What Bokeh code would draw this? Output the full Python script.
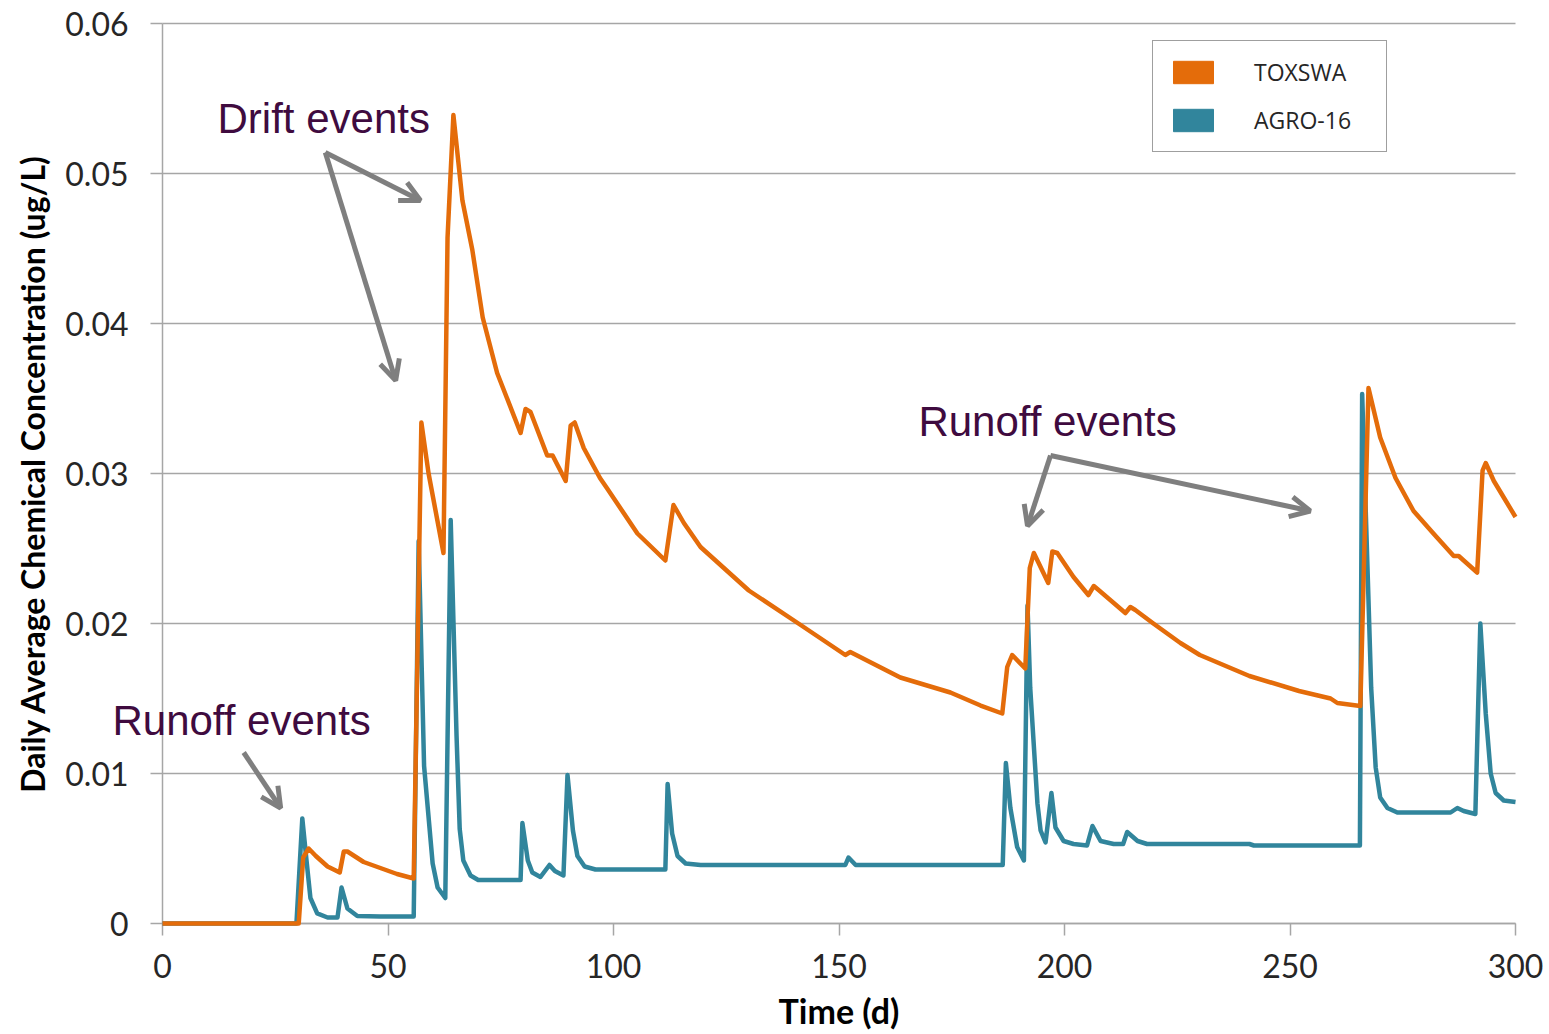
from bokeh.plotting import figure
from bokeh.models import (FixedTicker, CustomJSTickFormatter, Legend, LegendItem,
                          Arrow, OpenHead, Label, Range1d)
from bokeh.embed import file_html
from bokeh.resources import INLINE

# ---- data ----
toxswa_day = [0, 30.2, 31.2, 32.4, 34.0, 36.6, 39.3, 40.2, 41.0, 44.6, 48.3, 52.0, 55.7,
              57.4, 59.0, 62.3, 63.2, 64.5, 66.5, 68.7, 71.0, 74.2, 79.4, 80.5, 81.6,
              85.3, 86.5, 89.4, 90.5, 91.4, 93.4, 97.0, 98.6, 105.3, 111.5, 113.3, 115.6,
              119.3, 130.0, 141.5, 151.4, 152.5, 163.6, 174.7, 181.4, 186.2, 187.3, 188.4,
              191.3, 192.3, 193.2, 196.4, 197.3, 198.4, 202.0, 205.3, 206.5, 207.3, 213.5,
              214.6, 215.7, 219.7, 225.7, 230.0, 241.0, 252.0, 259.0, 260.5, 265.6, 267.4,
              270.0, 273.4, 277.4, 281.8, 286.3, 287.4, 291.5, 292.7, 293.4, 295.2, 297.4,
              300.0]
toxswa_conc = [0, 0, 0.0044, 0.0050, 0.0045, 0.0038, 0.0034, 0.0048, 0.0048, 0.0041, 0.0037,
               0.0033, 0.0030,
               0.0334, 0.0300, 0.0247, 0.0457, 0.0539, 0.0482, 0.0449, 0.0404, 0.0367, 0.0327,
               0.0343, 0.0341,
               0.0312, 0.0312, 0.0295, 0.0332, 0.0334, 0.0317, 0.0297, 0.0290, 0.0260, 0.0242,
               0.0279, 0.0267,
               0.0251, 0.0222, 0.0199, 0.0179, 0.0181, 0.0164, 0.0154, 0.01453, 0.0140, 0.0171,
               0.0179,
               0.0170, 0.0237, 0.0247, 0.0227, 0.0248, 0.0247, 0.0231, 0.0219, 0.0225, 0.0223,
               0.0207,
               0.0211, 0.0209, 0.0200, 0.0187, 0.0179, 0.0165, 0.0155, 0.0150, 0.0147, 0.0145,
               0.0357,
               0.0324, 0.0297, 0.0275, 0.0260, 0.0245, 0.0245, 0.0234, 0.0302, 0.0307, 0.0295,
               0.0284,
               0.0271]

agro_day = [0, 29.7, 31.0, 32.0, 32.8, 34.3, 36.6, 38.8, 39.7, 41.0, 43.2, 48.3, 55.7, 56.8,
            58.0, 59.9, 61.0, 62.7, 63.9, 65.2, 65.9, 66.7, 68.3, 70.0, 79.4, 79.8, 81.0,
            82.0, 83.8, 85.8, 87.0, 88.9, 89.8, 91.0, 92.0, 93.6, 96.0, 111.5, 112.0, 113.0,
            114.2, 116.0, 119.3, 151.4, 152.1, 153.7, 186.3, 187.0, 188.0, 189.5, 191.0,
            191.8, 192.4, 194.0, 194.7, 195.8, 197.1, 198.0, 199.8, 202.0, 205.0, 206.2,
            208.0, 210.9, 213.0, 213.9, 216.2, 218.3, 241.0, 242.0, 265.5, 266.0, 268.0,
            269.0, 270.0, 271.6, 273.8, 285.6, 287.1, 288.5, 291.1, 292.2, 293.4, 294.5,
            295.6, 297.4, 300.0]
agro_conc = [0, 0, 0.0070, 0.0040, 0.0017, 0.00067, 0.0004, 0.0004, 0.0024, 0.0010, 0.0005,
             0.00047, 0.00047, 0.0255,
             0.0105, 0.0040, 0.0024, 0.0017, 0.0269, 0.0125, 0.0063, 0.0042, 0.0032, 0.0029,
             0.0029, 0.0067, 0.0042,
             0.0034, 0.0031, 0.0039, 0.0035, 0.0032, 0.0099, 0.0062, 0.0045, 0.0038, 0.0036,
             0.0036, 0.0093, 0.0060,
             0.0045, 0.0040, 0.0039, 0.0039, 0.0044, 0.0039, 0.0039, 0.0107, 0.0077, 0.0051,
             0.0042,
             0.0212, 0.0157, 0.0080, 0.0062, 0.0054, 0.0087, 0.0064, 0.0055, 0.0053, 0.0052,
             0.0065,
             0.0055, 0.0053, 0.0053, 0.0061, 0.0055, 0.0053, 0.0053, 0.0052, 0.0052, 0.0353,
             0.0157,
             0.0104, 0.0084, 0.0077, 0.0074, 0.0074, 0.0077, 0.0075, 0.0073, 0.0200, 0.0140,
             0.0100,
             0.0087, 0.0082, 0.0081]

series_names = ["TOXSWA", "AGRO-16"]
series_colors = ["#E46C0A", "#31859C"]

x_ticks = [0, 50, 100, 150, 200, 250, 300]
y_ticks = [0, 0.01, 0.02, 0.03, 0.04, 0.05, 0.06]

# annotation texts (x day, y value)
notes = [("Drift events", 12.2, 0.0537),
         ("Runoff events", 167.6, 0.0335),
         ("Runoff events", -11.1, 0.01356)]
# arrows: (x_start, y_start, x_end, y_end)
arrows = [(36.1, 0.0514, 57.2, 0.0482),
          (36.1, 0.0514, 51.7, 0.0362),
          (196.9, 0.0312, 191.8, 0.0265),
          (196.9, 0.0312, 254.5, 0.0275),
          (18.0, 0.0114, 26.2, 0.0077)]

GRAY = "#A6A6A6"
TXT = "#262626"

# The plot frame fills the whole canvas so that nothing (texts left of day 0, tick labels)
# is clipped; both axes are pinned at 0 and the plotted area spans days 0-300, 0-0.06.
W, H = 1549, 1034
LEFT_PX, RIGHT_PX, TOP_PX, BOTTOM_PX = 162, 1515, 23, 923
px_per_day = (RIGHT_PX - LEFT_PX) / 300.0
px_per_unit = (BOTTOM_PX - TOP_PX) / 0.06
x_lo = -LEFT_PX / px_per_day
x_hi = 300 + (W - RIGHT_PX) / px_per_day
y_lo = -(H - BOTTOM_PX) / px_per_unit
y_hi = 0.06 + TOP_PX / px_per_unit

p = figure(width=W, height=H, output_backend="svg", toolbar_location=None,
           x_range=Range1d(x_lo, x_hi), y_range=Range1d(y_lo, y_hi),
           min_border=0, min_border_left=0, min_border_right=0, min_border_top=0,
           min_border_bottom=0)
p.outline_line_color = None
p.background_fill_color = "white"
p.border_fill_color = "white"

p.xgrid.visible = False
p.ygrid.grid_line_color = GRAY
p.ygrid.grid_line_width = 1.5
p.ygrid.ticker = FixedTicker(ticks=y_ticks)
p.ygrid.cross_bounds = (0, 300)

p.xaxis.ticker = FixedTicker(ticks=x_ticks)
p.xaxis.bounds = (0, 300)
p.xaxis.fixed_location = 0
p.yaxis.ticker = FixedTicker(ticks=y_ticks)
p.yaxis.bounds = (0, 0.06)
p.yaxis.fixed_location = 0
p.yaxis.formatter = CustomJSTickFormatter(code="return tick == 0 ? '0' : tick.toFixed(2);")

for ax in (p.xaxis, p.yaxis):
    ax.level = "underlay"
    ax.axis_line_color = GRAY
    ax.axis_line_width = 1.5
    ax.major_tick_line_color = GRAY
    ax.major_tick_line_width = 1.5
    ax.major_tick_out = 12
    ax.major_tick_in = 0
    ax.minor_tick_line_color = None
    ax.major_label_text_font = "Lato"
    ax.major_label_text_font_size = "32px"
    ax.major_label_text_color = TXT
    ax.axis_label_text_font = "Lato"
    ax.axis_label_text_font_style = "bold"
    ax.axis_label_text_color = "#000000"

p.xaxis.axis_label = "Time (d)"
p.yaxis.axis_label = "Daily Average Chemical Concentration (ug/L)"
p.xaxis.axis_label_text_font_size = "34px"
p.yaxis.axis_label_text_font_size = "32px"
p.xaxis.major_label_standoff = 18
p.yaxis.major_label_standoff = 22
p.xaxis.axis_label_standoff = 9
p.yaxis.axis_label_standoff = 10

r_agro = p.line(agro_day, agro_conc, line_color=series_colors[1], line_width=4.5,
                line_join="round")
r_tox = p.line(toxswa_day, toxswa_conc, line_color=series_colors[0], line_width=4.5,
               line_join="round")

# legend patches (renderers placed off-range so only the legend shows filled boxes)
leg_tox = p.rect(x=[-1000], y=[-1], width=1, height=1, fill_color=series_colors[0],
                 line_color=series_colors[0])
leg_agro = p.rect(x=[-1000], y=[-1], width=1, height=1, fill_color=series_colors[1],
                  line_color=series_colors[1])
legend = Legend(items=[LegendItem(label=series_names[0], renderers=[leg_tox]),
                       LegendItem(label=series_names[1], renderers=[leg_agro])],
                location=(1152, H - 152), orientation="vertical")
legend.glyph_width = 50
legend.glyph_height = 28
legend.label_height = 24
legend.spacing = 16
legend.padding = 15
legend.label_width = 117
legend.label_standoff = 36
legend.margin = 0
legend.border_line_color = "#404040"
legend.border_line_width = 1.5
legend.background_fill_alpha = 1
legend.label_text_font = "Open Sans"
legend.label_text_font_size = "23px"
legend.label_text_color = TXT
legend.label_text_baseline = "middle"
p.add_layout(legend)

for xs, ys, xe, ye in arrows:
    p.add_layout(Arrow(end=OpenHead(line_color="#7F7F7F", line_width=5, size=20),
                       x_start=xs, y_start=ys, x_end=xe, y_end=ye,
                       line_color="#7F7F7F", line_width=5))

for txt, tx, ty in notes:
    p.add_layout(Label(x=tx, y=ty, text=txt, text_font="Liberation Sans",
                       text_font_size="42px", text_color="#3F0B3F",
                       text_baseline="alphabetic", text_align="left"))

open("out.html", "w").write(file_html(p, INLINE))
